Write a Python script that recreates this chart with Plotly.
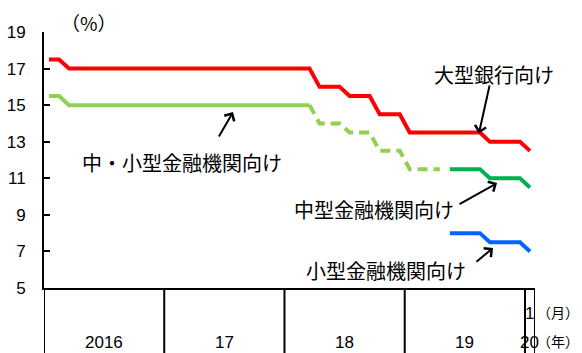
import plotly.graph_objects as go

# ---- data ----
months = [f"{y}-{m:02d}" for y in range(2016, 2020) for m in range(1, 13)] + ["2020-01"]
large = ([17.5] * 2 + [17.0] * 25 + [16.0] * 3 + [15.5] * 3 + [14.5] * 3
         + [13.5] * 8 + [13.0] * 4 + [12.5])
smallmid = [15.5] * 2 + [15.0] * 25 + [14.0] * 3 + [13.5] * 3 + [12.5] * 3 + [11.5] * 4
medium = [11.5] * 4 + [11.0] * 4 + [10.5]
small = [8.0] * 4 + [7.5] * 4 + [7.0]
medium_start = "2019-05"
dash_start = "2018-03"
year_labels = ["2016", "17", "18", "19", "20"]
y_ticks = [5, 7, 9, 11, 13, 15, 17, 19]

RED = "#FF0000"
LGREEN = "#92D050"
DGREEN = "#00B050"
BLUE = "#0066FF"
JP = "Noto Sans CJK JP"
NUM = "Liberation Sans, Arial"

i_med = months.index(medium_start)
i_dash = months.index(dash_start)

fig = go.Figure()
fig.add_trace(go.Scatter(x=months, y=large, mode="lines",
                         line=dict(color=RED, width=4), hoverinfo="skip"))
fig.add_trace(go.Scatter(x=months[:i_dash + 1], y=smallmid[:i_dash + 1], mode="lines",
                         line=dict(color=LGREEN, width=4), hoverinfo="skip"))
fig.add_trace(go.Scatter(x=months[i_dash:len(smallmid)], y=smallmid[i_dash:], mode="lines",
                         line=dict(color=LGREEN, width=4, dash="10px,6px"), hoverinfo="skip"))
fig.add_trace(go.Scatter(x=months[i_med:i_med + len(medium)], y=medium, mode="lines",
                         line=dict(color=DGREEN, width=4), hoverinfo="skip"))
fig.add_trace(go.Scatter(x=months[i_med:i_med + len(small)], y=small, mode="lines",
                         line=dict(color=BLUE, width=4), hoverinfo="skip"))

W, H = 582, 353
ml, mr, mt, mb = 44, 47, 32, 65
pw = W - ml - mr
ph = H - mt - mb
ybot = -mb / ph
xright = (W - 1 - ml) / pw

shapes = []
# year separators
years = [m[:4] for m in months]
bounds = [-0.5] + [i - 0.5 for i in range(1, len(months)) if years[i] != years[i - 1]] + [len(months) - 0.5]
for b in bounds:
    shapes.append(dict(type="line", xref="x", yref="paper", x0=b, x1=b, y0=0, y1=ybot,
                       line=dict(color="black", width=2)))

annotations = []
# year labels
for k, lab in enumerate(year_labels):
    a, b = bounds[k], bounds[k + 1]
    xc = (a + b) / 2
    annotations.append(dict(x=xc, y=-(342 - 288) / ph, xref="x", yref="paper", text=lab,
                            showarrow=False, font=dict(family=NUM, size=17, color="black"),
                            xanchor="center", yanchor="middle"))
annotations.append(dict(x=len(months) - 1, y=-(313 - 288) / ph, xref="x", yref="paper", text="1",
                        showarrow=False, font=dict(family=NUM, size=17, color="black"),
                        xanchor="center", yanchor="middle"))
annotations.append(dict(x=xright, y=-(312 - 288) / ph, xref="paper", yref="paper", text="（月）",
                        showarrow=False, font=dict(family=JP, size=14, color="black"),
                        xanchor="right", yanchor="middle"))
annotations.append(dict(x=xright, y=-(341 - 288) / ph, xref="paper", yref="paper", text="（年）",
                        showarrow=False, font=dict(family=JP, size=14, color="black"),
                        xanchor="right", yanchor="middle"))
annotations.append(dict(x=0, y=1, xref="paper", yref="paper", text="（%）",
                        showarrow=False, font=dict(family=JP, size=19, color="black"),
                        xanchor="left", yanchor="middle", xshift=15, yshift=10))

# series labels
labels = [
    ("大型銀行向け", 44.4, 16.70),
    ("中・小型金融機関向け", 13.3, 11.89),
    ("中型金融機関向け", 32.4, 9.27),
    ("小型金融機関向け", 33.6, 5.98),
]
for t, x, y in labels:
    annotations.append(dict(x=x, y=y, xref="x", yref="y", text=t, showarrow=False,
                            font=dict(family=JP, size=20, color="black"),
                            xanchor="center", yanchor="middle"))
arrows = [
    ((42.9, 13.45), (44.0, 16.16)),
    ((18.36, 14.62), (16.87, 13.20)),
    ((44.71, 10.74), (40.82, 9.54)),
    ((44.31, 7.19), (42.51, 6.37)),
]
for (tx, ty), (sx, sy) in arrows:
    annotations.append(dict(x=tx, y=ty, xref="x", yref="y", ax=sx, ay=sy, axref="x", ayref="y",
                            text="", showarrow=True, arrowhead=4, arrowsize=1.1, arrowwidth=2,
                            arrowcolor="black"))

fig.update_layout(
    width=W, height=H, margin=dict(l=ml, r=mr, t=mt, b=mb, pad=0, autoexpand=False),
    paper_bgcolor="white", plot_bgcolor="white", showlegend=False,
    shapes=shapes, annotations=annotations,
    xaxis=dict(type="category", range=[-0.5, len(months) - 0.5], showticklabels=False,
               ticks="", showgrid=False, zeroline=False, showline=True, linecolor="black",
               linewidth=2, automargin=False),
    yaxis=dict(range=[5, 19], tickvals=y_ticks, ticks="inside", ticklen=6, tickwidth=2,
               tickcolor="black", showgrid=False, zeroline=False, showline=True,
               linecolor="black", linewidth=2, ticklabelstandoff=13, automargin=False,
               tickfont=dict(family=NUM, size=17, color="black")),
)
fig.write_html("out.html")
